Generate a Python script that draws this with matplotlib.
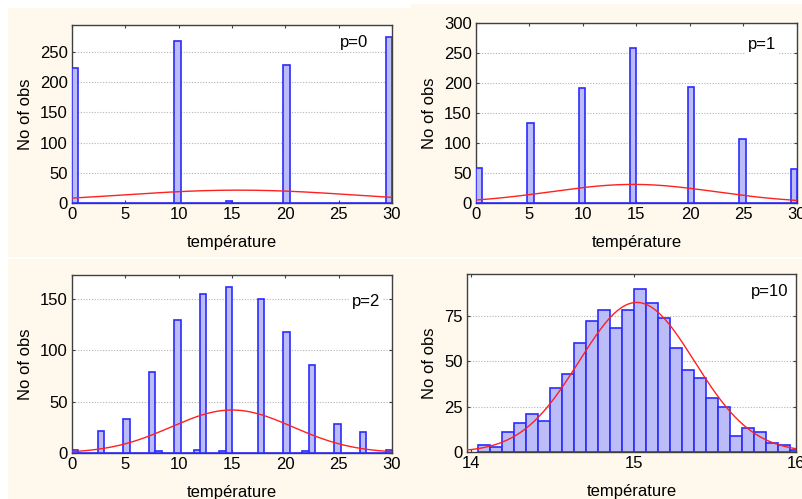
import numpy as np
import matplotlib
matplotlib.use("Agg")
import matplotlib.pyplot as plt
from matplotlib.patches import Rectangle

plt.rcParams['font.family'] = ['Liberation Sans', 'DejaVu Sans']

# --- data ---
# panels p=0, p=1, p=2 : 50 bins of width 0.6 between 0 and 30
bin_width_a = 0.6
counts_p0 = [223, 0, 0, 0, 0, 0, 0, 0, 0, 0,
             0, 0, 0, 0, 0, 0, 268, 0, 0, 0,
             0, 0, 0, 0, 3, 0, 0, 0, 0, 0,
             0, 0, 0, 228, 0, 0, 0, 0, 0, 0,
             0, 0, 0, 0, 0, 0, 0, 0, 0, 275]
counts_p1 = [58, 0, 0, 0, 0, 0, 0, 0, 133, 0,
             0, 0, 0, 0, 0, 0, 191, 0, 0, 0,
             0, 0, 0, 0, 259, 0, 0, 0, 0, 0,
             0, 0, 0, 193, 0, 0, 0, 0, 0, 0,
             0, 106, 0, 0, 0, 0, 0, 0, 0, 57]
counts_p2 = [3, 0, 0, 0, 21, 0, 0, 0, 33, 0,
             0, 0, 79, 2, 0, 0, 129, 0, 0, 3,
             155, 0, 0, 2, 161, 0, 0, 0, 0, 150,
             0, 0, 0, 118, 0, 0, 2, 86, 0, 0,
             0, 28, 0, 0, 0, 20, 0, 0, 0, 3]
# panel p=10 : 27 bins starting at 14.045
start_p10 = 14.045
bin_width_p10 = 0.0738
counts_p10 = [4, 3, 11, 16, 21, 17, 35, 43, 60, 72, 78, 68, 78, 90,
              82, 74, 57, 45, 41, 30, 25, 9, 13, 11, 5, 4, 1]

# fitted normal curves (mean, sd)
fit_p0 = (15.6, 11.2)
fit_p1 = (14.7, 7.7)
fit_p2 = (15.0, 5.7)
fit_p10 = (15.02, 0.355)

labels = ["p=0", "p=1", "p=2", "p=10"]

W, H = 803, 499
fig = plt.figure(figsize=(W / 100, H / 100), dpi=100)
fig.patch.set_facecolor("white")

cream = "#fef9ec"
# cream backgrounds of the four pasted screenshots (pixels, top-left origin)
for x0, y0, x1, y1 in [(8, 8, 411, 257), (411, 4, 803, 257),
                       (8, 259, 400, 499), (400, 259, 803, 499)]:
    fig.patches.append(Rectangle((x0 / W, 1 - y1 / H), (x1 - x0) / W, (y1 - y0) / H,
                                 transform=fig.transFigure, facecolor=cream,
                                 edgecolor="none", zorder=-10))


def axpos(x0, y0, x1, y1):
    return [x0 / W, 1 - y1 / H, (x1 - x0) / W, (y1 - y0) / H]


panels = [
    dict(pos=axpos(72, 25, 392, 203), counts=counts_p0, start=0.0, bw=bin_width_a,
         fit=fit_p0, xlim=(0, 30), ylim=(0, 295), yticks=np.arange(0, 251, 50),
         xticks=np.arange(0, 31, 5), label=labels[0], tx=0.925, ty=0.90),
    dict(pos=axpos(476, 23, 797, 203), counts=counts_p1, start=0.0, bw=bin_width_a,
         fit=fit_p1, xlim=(0, 30), ylim=(0, 300), yticks=np.arange(0, 301, 50),
         xticks=np.arange(0, 31, 5), label=labels[1], tx=0.935, ty=0.88),
    dict(pos=axpos(72, 275, 392, 453), counts=counts_p2, start=0.0, bw=bin_width_a,
         fit=fit_p2, xlim=(0, 30), ylim=(0, 173), yticks=np.arange(0, 151, 50),
         xticks=np.arange(0, 31, 5), label=labels[2], tx=0.962, ty=0.85),
    dict(pos=axpos(467, 274, 796, 452), counts=counts_p10, start=start_p10, bw=bin_width_p10,
         fit=fit_p10, xlim=(13.975, 16.0), ylim=(0, 98), yticks=np.arange(0, 76, 25),
         xticks=[14, 15, 16], label=labels[3], tx=0.976, ty=0.90),
]

for p in panels:
    ax = fig.add_axes(p["pos"])
    ax.set_facecolor("white")
    counts = np.array(p["counts"])
    lefts = p["start"] + p["bw"] * np.arange(len(counts))
    ax.bar(lefts, counts, width=p["bw"], align="edge", color="#bcbcf8",
           edgecolor="#2b2bff", linewidth=1.2, zorder=3)
    mu, sd = p["fit"]
    xs = np.linspace(p["xlim"][0], p["xlim"][1], 300)
    scale = counts.sum() * p["bw"] / (sd * np.sqrt(2 * np.pi))
    ax.plot(xs, scale * np.exp(-0.5 * ((xs - mu) / sd) ** 2), color="#ff2020",
            linewidth=1.0, zorder=4)
    ax.set_xlim(p["xlim"])
    ax.set_ylim(p["ylim"])
    ax.set_xticks(p["xticks"])
    ax.set_yticks(p["yticks"])
    ax.yaxis.grid(True, linestyle=(0, (1, 1.5)), color="#b4b4b4", linewidth=0.8)
    ax.set_axisbelow(True)
    ax.tick_params(direction="in", length=2.5, width=0.8, labelsize=12,
                   top=True, right=True, pad=3, color="#404040")
    for s in ax.spines.values():
        s.set_color("#404040")
        s.set_linewidth(1.0)
    ax.set_xlabel("température", fontsize=12, labelpad=9)
    ax.set_ylabel("No of obs", fontsize=12, labelpad=5)
    ax.text(p["tx"], p["ty"], p["label"], transform=ax.transAxes, ha="right",
            va="center", fontsize=12, zorder=5,
            bbox=dict(facecolor="white", edgecolor="none", pad=1.5))

fig.savefig("out.png", dpi=100, facecolor=fig.get_facecolor())
